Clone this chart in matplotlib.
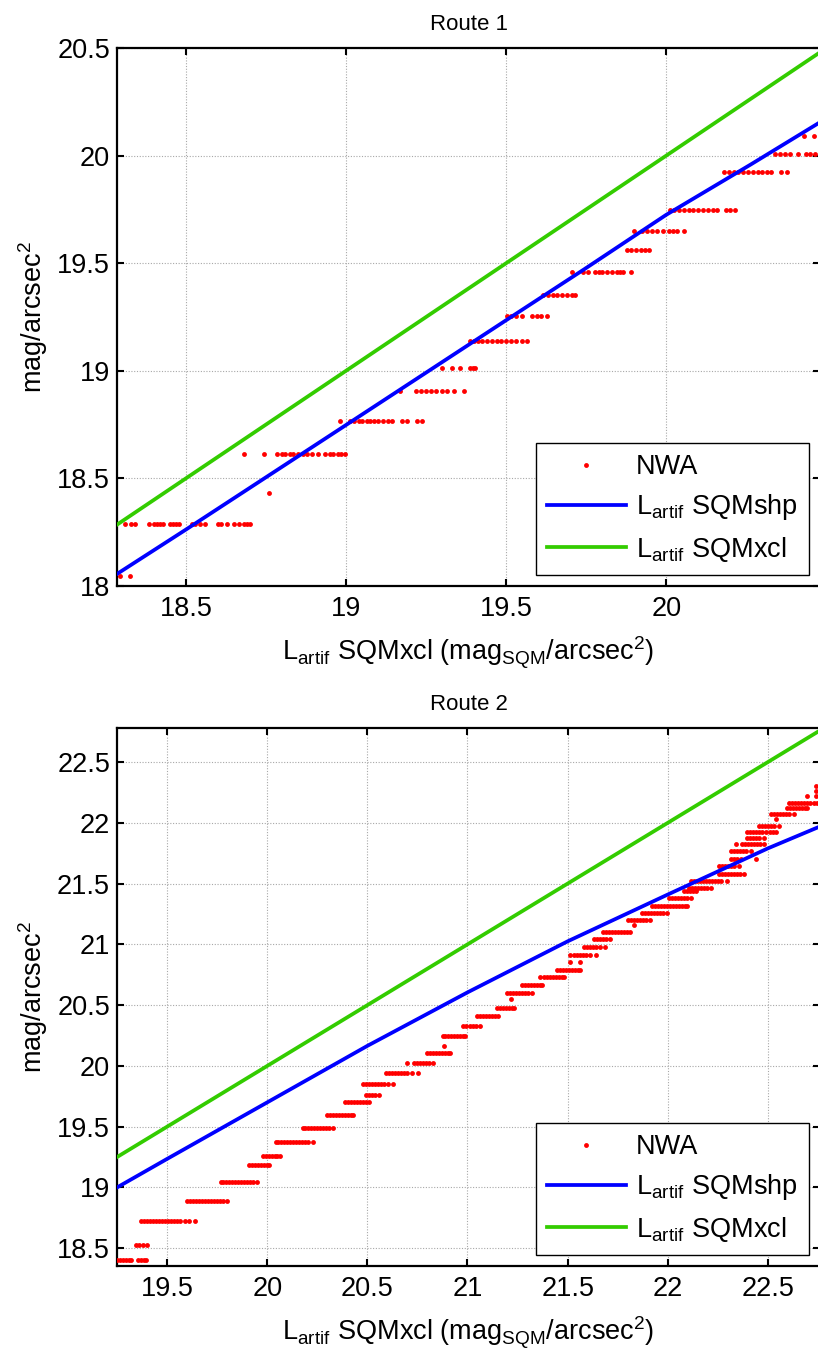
import matplotlib
matplotlib.use("Agg")
import matplotlib.pyplot as plt
import numpy as np

plt.rcParams['font.family'] = ['Liberation Sans', 'DejaVu Sans']
plt.rcParams['mathtext.fontset'] = 'custom'
plt.rcParams['mathtext.rm'] = 'Liberation Sans'
plt.rcParams['mathtext.it'] = 'Liberation Sans:italic'
plt.rcParams['mathtext.bf'] = 'Liberation Sans:bold'

# ---------------- Route 1 data ----------------
r1_levels = [18.048, 18.286, 18.433, 18.613, 18.767, 18.908, 19.011, 19.14,
             19.256, 19.35, 19.458, 19.563, 19.65, 19.746, 19.923, 20.008, 20.091]
r1_rows = [
    [18.294, 18.326],
    [18.31, 18.33, 18.34, 18.385, 18.40, 18.41, 18.42, 18.43, 18.45, 18.46, 18.47, 18.48,
     18.52, 18.53, 18.545, 18.56, 18.60, 18.61, 18.63, 18.65, 18.665, 18.68, 18.69, 18.70],
    [18.759],
    [18.68, 18.745, 18.784, 18.80, 18.81, 18.826, 18.836, 18.85, 18.865, 18.878, 18.893,
     18.914, 18.935, 18.95, 18.96, 18.975, 18.985, 18.998],
    [18.982, 19.013, 19.025, 19.04, 19.05, 19.065, 19.076, 19.086, 19.10, 19.115, 19.13,
     19.143, 19.175, 19.19, 19.222, 19.237],
    [19.17, 19.22, 19.235, 19.25, 19.265, 19.28, 19.30, 19.315, 19.336, 19.367],
    [19.30, 19.33, 19.357, 19.388, 19.396, 19.404],
    [19.388, 19.40, 19.413, 19.425, 19.44, 19.455, 19.47, 19.485, 19.50, 19.515, 19.53,
     19.55, 19.565],
    [19.503, 19.515, 19.53, 19.55, 19.58, 19.595, 19.61, 19.628],
    [19.616, 19.63, 19.645, 19.66, 19.675, 19.69, 19.705, 19.716],
    [19.706, 19.741, 19.757, 19.779, 19.79, 19.80, 19.815, 19.83, 19.845, 19.855, 19.866, 19.89],
    [19.878, 19.89, 19.905, 19.92, 19.935, 19.946],
    [19.90, 19.925, 19.94, 19.955, 19.97, 19.99, 20.008, 20.02, 20.035, 20.055],
    [20.013, 20.025, 20.04, 20.055, 20.07, 20.085, 20.10, 20.115, 20.13, 20.145, 20.159,
     20.185, 20.20, 20.216],
    [20.18, 20.195, 20.21, 20.225, 20.24, 20.255, 20.27, 20.285, 20.30, 20.315, 20.326,
     20.357, 20.378],
    [20.341, 20.355, 20.37, 20.385, 20.41, 20.435, 20.45, 20.465, 20.48],
    [20.43, 20.46],
]
r1_shp_x = [18.285, 18.5, 19.0, 19.5, 19.742, 20.0, 20.263, 20.48]
r1_shp_y = [18.056, 18.262, 18.748, 19.235, 19.47, 19.725, 19.958, 20.155]
r1_xcl_x = [18.285, 20.48]
r1_xcl_y = [18.285, 20.48]
r1_xlim = [18.285, 20.48]
r1_ylim = [18.0, 20.5]
r1_yticks = [18, 18.5, 19, 19.5, 20, 20.5]
r1_xticks = [18.5, 19, 19.5, 20]

# ---------------- Route 2 data ----------------
r2_levels = [18.40, 18.525, 18.722, 18.89, 19.045, 19.183, 19.257, 19.378, 19.492, 19.60,
             19.70, 19.76, 19.854, 19.942, 20.028, 20.11, 20.168, 20.249, 20.33, 20.408,
             20.478, 20.548, 20.598, 20.666, 20.73, 20.793, 20.855, 20.91, 20.98, 21.046,
             21.104, 21.163, 21.2, 21.26, 21.319, 21.378, 21.437, 21.466, 21.525, 21.578,
             21.643, 21.702, 21.767, 21.825, 21.878, 21.922, 21.973, 22.03, 22.07, 22.12,
             22.164, 22.217, 22.26, 22.305]
r2_rows = [
    [19.25, 19.265, 19.28, 19.295, 19.31, 19.32, 19.355, 19.37, 19.385, 19.397],
    [19.343, 19.36, 19.38, 19.40],
    [19.372, 19.385, 19.40, 19.415, 19.43, 19.445, 19.46, 19.475, 19.49, 19.505, 19.52,
     19.535, 19.55, 19.564, 19.59, 19.61, 19.64],
    [19.60, 19.615, 19.63, 19.645, 19.66, 19.675, 19.69, 19.705, 19.72, 19.735, 19.75,
     19.765, 19.78, 19.797],
    [19.767, 19.78, 19.795, 19.81, 19.825, 19.84, 19.855, 19.87, 19.885, 19.897, 19.914,
     19.93, 19.947],
    [19.91, 19.925, 19.94, 19.955, 19.97, 19.985, 20.0, 20.01],
    [19.98, 19.995, 20.01, 20.025, 20.04, 20.05, 20.063],
    [20.042, 20.055, 20.07, 20.085, 20.10, 20.115, 20.13, 20.145, 20.16, 20.175, 20.19,
     20.205, 20.23],
    [20.177, 20.19, 20.205, 20.22, 20.235, 20.25, 20.265, 20.28, 20.295, 20.31, 20.327],
    [20.30, 20.315, 20.33, 20.345, 20.36, 20.375, 20.39, 20.405, 20.417, 20.427],
    [20.39, 20.405, 20.42, 20.435, 20.45, 20.465, 20.48, 20.495, 20.51],
    [20.494, 20.51, 20.525, 20.54, 20.556],
    [20.48, 20.495, 20.51, 20.525, 20.54, 20.555, 20.57, 20.585, 20.605, 20.627],
    [20.593, 20.61, 20.625, 20.64, 20.655, 20.67, 20.685, 20.70, 20.722, 20.755],
    [20.70, 20.735, 20.75, 20.765, 20.78, 20.795, 20.81, 20.827],
    [20.80, 20.815, 20.83, 20.845, 20.86, 20.875, 20.89, 20.905, 20.914],
    [20.885],
    [20.877, 20.89, 20.905, 20.92, 20.935, 20.95, 20.965, 20.98, 20.99],
    [20.98, 20.995, 21.01, 21.025, 21.04, 21.06],
    [21.047, 21.06, 21.075, 21.09, 21.105, 21.12, 21.135, 21.15],
    [21.147, 21.16, 21.175, 21.19, 21.205, 21.22, 21.233],
    [21.217],
    [21.197, 21.21, 21.225, 21.24, 21.255, 21.27, 21.285, 21.30, 21.322],
    [21.272, 21.285, 21.30, 21.315, 21.33, 21.345, 21.36, 21.372],
    [21.363, 21.38, 21.395, 21.41, 21.425, 21.44, 21.455, 21.47, 21.48],
    [21.447, 21.46, 21.475, 21.49, 21.505, 21.52, 21.535, 21.55, 21.563],
    [21.514, 21.563],
    [21.514, 21.53, 21.545, 21.56, 21.575, 21.59, 21.613, 21.64],
    [21.58, 21.595, 21.61, 21.625, 21.64, 21.66, 21.685],
    [21.63, 21.645, 21.66, 21.675, 21.69, 21.713],
    [21.677, 21.69, 21.705, 21.72, 21.735, 21.75, 21.765, 21.78, 21.795, 21.813],
    [21.83],
    [21.80, 21.815, 21.83, 21.845, 21.86, 21.875, 21.89, 21.913],
    [21.872, 21.885, 21.90, 21.915, 21.93, 21.945, 21.96, 21.975, 21.997],
    [21.922, 21.935, 21.95, 21.965, 21.98, 21.995, 22.01, 22.025, 22.04, 22.055, 22.07,
     22.085, 22.097],
    [22.005, 22.02, 22.035, 22.05, 22.065, 22.08, 22.095, 22.114],
    [22.08, 22.095, 22.11, 22.125, 22.14],
    [22.105, 22.12, 22.135, 22.15, 22.165, 22.18, 22.195, 22.214],
    [22.114, 22.13, 22.145, 22.16, 22.175, 22.19, 22.205, 22.22, 22.235, 22.25, 22.264, 22.297],
    [22.255, 22.27, 22.285, 22.30, 22.315, 22.33, 22.345, 22.36, 22.38],
    [22.255, 22.27, 22.285, 22.30, 22.315, 22.33, 22.355],
    [22.314, 22.33, 22.345, 22.364, 22.44],
    [22.314, 22.33, 22.345, 22.36, 22.375, 22.39, 22.414],
    [22.34, 22.372, 22.385, 22.40, 22.415, 22.43, 22.445, 22.46, 22.48],
    [22.397, 22.41, 22.425, 22.44, 22.455, 22.48],
    [22.397, 22.41, 22.425, 22.44, 22.455, 22.47, 22.49, 22.51, 22.525, 22.54],
    [22.455, 22.47, 22.485, 22.50, 22.515, 22.53, 22.555],
    [22.54],
    [22.514, 22.53, 22.545, 22.56, 22.575, 22.59, 22.605, 22.63],
    [22.597, 22.61, 22.625, 22.64, 22.655, 22.67, 22.685, 22.697],
    [22.605, 22.62, 22.635, 22.65, 22.665, 22.68, 22.695, 22.71, 22.73, 22.745],
    [22.697, 22.74],
    [22.74],
    [22.74],
]
r2_shp_x = [19.25, 19.5, 20.0, 20.5, 21.0, 21.5, 22.0, 22.5, 22.76]
r2_shp_y = [19.0, 19.235, 19.70, 20.165, 20.605, 21.025, 21.41, 21.79, 21.97]
r2_xcl_x = [19.25, 22.76]
r2_xcl_y = [19.25, 22.76]
r2_xlim = [19.25, 22.76]
r2_ylim = [18.354, 22.78]
r2_yticks = [18.5, 19, 19.5, 20, 20.5, 21, 21.5, 22, 22.5]
r2_xticks = [19.5, 20, 20.5, 21, 21.5, 22, 22.5]

titles = ["Route 1", "Route 2"]
legend_labels = ["NWA", r"L$_{\mathrm{artif}}$ SQMshp", r"L$_{\mathrm{artif}}$ SQMxcl"]
xlabel = r"L$_{\mathrm{artif}}$ SQMxcl (mag$_{\mathrm{SQM}}$/arcsec$^{2}$)"
ylabel = r"mag/arcsec$^{2}$"

W, H = 818, 1358
fig = plt.figure(figsize=(W / 100, H / 100), dpi=100)

def px_axes(left, top, right, bottom):
    return fig.add_axes([left / W, 1 - bottom / H, (right - left) / W, (bottom - top) / H])

ax1 = px_axes(117, 48, 820, 586)
ax2 = px_axes(117, 728, 820, 1266)

GREEN = '#33cc00'
FS = 19.5

def draw(ax, levels, rows, shp_x, shp_y, xcl_x, xcl_y, xlim, ylim, xticks, yticks, title):
    xs, ys = [], []
    for lv, row in zip(levels, rows):
        xs.extend(row)
        ys.extend([lv] * len(row))
    ax.plot(xs, ys, linestyle='none', marker='o', markersize=3.5, color='red',
            markeredgewidth=0, label=legend_labels[0], zorder=3)
    ax.plot(shp_x, shp_y, color='blue', linewidth=2.7, label=legend_labels[1], zorder=4)
    ax.plot(xcl_x, xcl_y, color=GREEN, linewidth=2.7, label=legend_labels[2], zorder=4)
    ax.set_xlim(xlim)
    ax.set_ylim(ylim)
    ax.set_xticks(xticks)
    ax.set_yticks(yticks)
    ax.set_xticklabels([f"{t:g}" for t in xticks])
    ax.set_yticklabels([f"{t:g}" for t in yticks])
    ax.grid(True, linestyle=(0, (1, 1.5)), color='#a8a8a8', linewidth=0.8)
    ax.set_axisbelow(True)
    ax.tick_params(direction='in', length=5, width=1.5, labelsize=FS,
                   top=True, right=True)
    ax.tick_params(axis='x', pad=7)
    ax.tick_params(axis='y', pad=5)
    for sp in ax.spines.values():
        sp.set_linewidth(1.6)
    ax.set_title(title, fontsize=16, pad=13)
    ax.set_xlabel(xlabel, fontsize=FS, labelpad=9)
    ax.set_ylabel(ylabel, fontsize=FS, labelpad=5)
    leg = ax.legend(loc='lower right', bbox_to_anchor=(0.984, 0.0204), borderaxespad=0,
                    fontsize=FS, fancybox=False, framealpha=1, edgecolor='black',
                    handlelength=2.9, handletextpad=0.37, labelspacing=0.45,
                    borderpad=0.42, markerscale=1.0)
    leg.get_frame().set_linewidth(1.0)

draw(ax1, r1_levels, r1_rows, r1_shp_x, r1_shp_y, r1_xcl_x, r1_xcl_y,
     r1_xlim, r1_ylim, r1_xticks, r1_yticks, titles[0])
draw(ax2, r2_levels, r2_rows, r2_shp_x, r2_shp_y, r2_xcl_x, r2_xcl_y,
     r2_xlim, r2_ylim, r2_xticks, r2_yticks, titles[1])

fig.savefig("out.png", dpi=100)
